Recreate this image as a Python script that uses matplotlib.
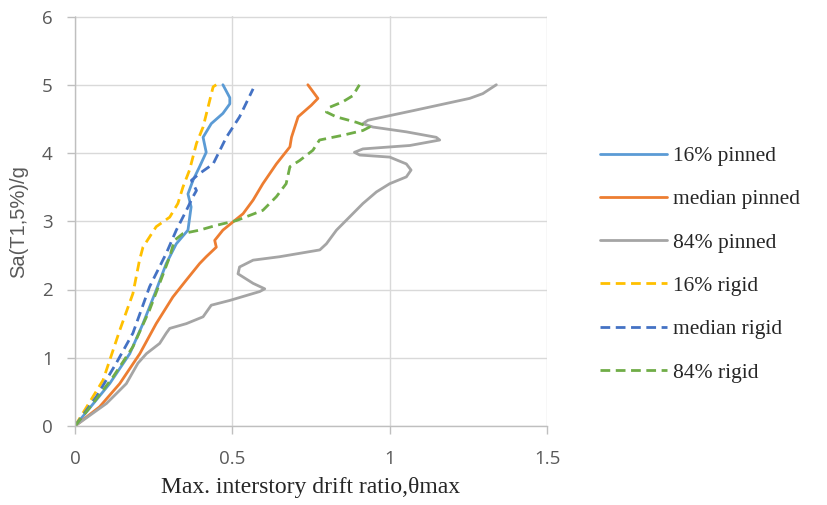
import matplotlib
matplotlib.use("Agg")
import matplotlib.pyplot as plt

# ---- data ----
p16_x = [0, 0.110, 0.174, 0.216, 0.258, 0.290, 0.322, 0.359, 0.369, 0.359, 0.375, 0.396, 0.417, 0.407, 0.433, 0.470, 0.492, 0.492, 0.470]
p16_y = [0, 0.62, 1.06, 1.50, 1.99, 2.38, 2.67, 2.87, 3.21, 3.40, 3.60, 3.80, 4.01, 4.23, 4.43, 4.58, 4.72, 4.81, 5.0]

pmed_x = [0, 0.078, 0.142, 0.206, 0.258, 0.311, 0.354, 0.396, 0.417, 0.449, 0.444, 0.470, 0.502, 0.534, 0.566, 0.597, 0.640, 0.683, 0.688, 0.709, 0.751, 0.772, 0.740]
pmed_y = [0, 0.28, 0.62, 1.06, 1.50, 1.89, 2.14, 2.38, 2.48, 2.62, 2.72, 2.87, 2.99, 3.11, 3.31, 3.55, 3.84, 4.09, 4.23, 4.53, 4.70, 4.80, 5.0]

p84_x = [0, 0.100, 0.163, 0.200, 0.227, 0.269, 0.290, 0.301, 0.354, 0.407, 0.433, 0.492, 0.587, 0.603, 0.566, 0.518, 0.523, 0.566, 0.650, 0.778, 0.799, 0.831, 0.915, 0.958, 1.000, 1.053, 1.068, 1.053, 1.000, 0.905, 0.888, 0.915, 1.064, 1.159, 1.148, 1.053, 0.947, 0.915, 0.931, 1.074, 1.254, 1.296, 1.339]
p84_y = [0, 0.33, 0.62, 0.92, 1.06, 1.21, 1.36, 1.43, 1.50, 1.60, 1.77, 1.84, 1.97, 2.01, 2.09, 2.23, 2.33, 2.43, 2.48, 2.58, 2.67, 2.87, 3.26, 3.43, 3.55, 3.65, 3.75, 3.84, 3.94, 3.97, 4.01, 4.06, 4.11, 4.19, 4.23, 4.31, 4.38, 4.43, 4.48, 4.62, 4.80, 4.87, 5.0]

r16_x = [0, 0.089, 0.142, 0.184, 0.205, 0.216, 0.258, 0.301, 0.327, 0.343, 0.364, 0.386, 0.407, 0.439, 0.449]
r16_y = [0, 0.67, 1.40, 1.94, 2.43, 2.62, 2.92, 3.06, 3.26, 3.50, 3.75, 4.14, 4.38, 4.97, 5.0]

rmed_x = [0, 0.068, 0.131, 0.184, 0.237, 0.290, 0.322, 0.354, 0.375, 0.386, 0.370, 0.396, 0.439, 0.481, 0.523, 0.566]
rmed_y = [0, 0.43, 0.92, 1.36, 2.04, 2.53, 2.87, 3.16, 3.36, 3.45, 3.60, 3.70, 3.84, 4.23, 4.53, 4.94]

r84_x = [0, 0.057, 0.121, 0.184, 0.237, 0.269, 0.301, 0.316, 0.343, 0.396, 0.449, 0.513, 0.597, 0.640, 0.671, 0.683, 0.714, 0.756, 0.777, 0.851, 0.915, 0.936, 0.894, 0.830, 0.799, 0.809, 0.851, 0.883, 0.904]
r84_y = [0, 0.33, 0.72, 1.16, 1.70, 2.09, 2.48, 2.72, 2.82, 2.87, 2.94, 3.01, 3.16, 3.36, 3.55, 3.80, 3.89, 4.04, 4.19, 4.26, 4.33, 4.38, 4.45, 4.53, 4.60, 4.67, 4.75, 4.84, 5.0]

labels = ["16% pinned", "median pinned", "84% pinned", "16% rigid", "median rigid", "84% rigid"]
x_ticks = [0, 0.5, 1, 1.5]
x_tick_labels = ["0", "0.5", "1", "1.5"]
y_ticks = [0, 1, 2, 3, 4, 5, 6]

series = [(p16_x, p16_y), (pmed_x, pmed_y), (p84_x, p84_y),
          (r16_x, r16_y), (rmed_x, rmed_y), (r84_x, r84_y)]
colors = ["#5B9BD5", "#ED7D31", "#A5A5A5", "#FFC000", "#4472C4", "#70AD47"]
styles = ["-", "-", "-", "--", "--", "--"]

fig = plt.figure(figsize=(8.27, 5.05), dpi=100)
W, H = 827, 505
ax = fig.add_axes([75 / W, 1 - 426 / H, (547 - 75) / W, (426 - 16.5) / H])

handles = []
for (xs, ys), c, ls, lab in zip(series, colors, styles, labels):
    h, = ax.plot(xs, ys, color=c, lw=2.0, ls=ls, label=lab,
                 dashes=(3.5, 2) if ls == "--" else (None, None),
                 solid_capstyle="round", solid_joinstyle="round")
    handles.append(h)

ax.set_xlim(0, 1.5)
ax.set_ylim(0, 6)
ax.set_xticks(x_ticks)
ax.set_xticklabels(x_tick_labels)
ax.set_yticks(y_ticks)
ax.grid(True, color="#D9D9D9", lw=1.0)
ax.set_axisbelow(True)
for s in ["top", "right"]:
    ax.spines[s].set_visible(False)
for s in ["left", "bottom"]:
    ax.spines[s].set_color("#BFBFBF")
    ax.spines[s].set_linewidth(1.0)
ax.tick_params(axis="both", colors="#BFBFBF", length=6, width=1.0,
               labelcolor="#595959", labelsize=13.5)
for lab in ax.get_xticklabels() + ax.get_yticklabels():
    lab.set_family("Open Sans")
ax.tick_params(axis="x", pad=11)
ax.tick_params(axis="y", pad=10)

ax.set_xlabel("Max. interstory drift ratio,θmax", family="Liberation Serif",
              fontsize=17, color="#262626", labelpad=7)
ax.set_ylabel("Sa(T1,5%)/g", family="Liberation Sans", fontsize=14.5,
              color="#595959", labelpad=10)

leg = fig.legend(handles=handles, labels=labels, loc="upper left",
                 bbox_to_anchor=(600 / W, 1 - 146 / H), frameon=False,
                 prop={"family": "Liberation Serif", "size": 15.5},
                 handlelength=3.1, handletextpad=0.3, labelspacing=1.08,
                 borderaxespad=0, borderpad=0)
for t in leg.get_texts():
    t.set_color("#262626")

fig.savefig("out.png", dpi=100)
